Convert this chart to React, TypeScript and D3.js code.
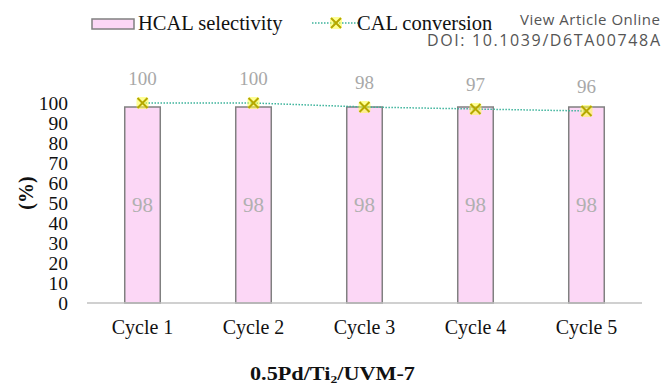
import React from "react";
import * as d3 from "d3";

const categories = ["Cycle 1", "Cycle 2", "Cycle 3", "Cycle 4", "Cycle 5"];
const selectivity = [98, 98, 98, 98, 98];
const conversion = [100, 100, 98, 97, 96];
const yTicks = [0, 10, 20, 30, 40, 50, 60, 70, 80, 90, 100];

const W = 662;
const H = 385;
const serif = "'Liberation Serif', 'Times New Roman', Times, serif";
const sans = "'Open Sans', 'Noto Sans', sans-serif";

export default function App() {
  const x = d3.scaleBand<string>().domain(categories).range([87, 642]).paddingInner(0.68).paddingOuter(0.34);
  const xc = (c: string) => (x(c) as number) + x.bandwidth() / 2;
  const y = d3.scaleLinear().domain([0, 100]).range([303, 103]);
  const line = d3
    .line<number>()
    .x((_, i) => xc(categories[i]))
    .y((d) => y(d));

  const marker = (cx: number, cy: number, k: string) => (
    <g key={k}>
      <rect x={cx - 6} y={cy - 6} width={12} height={12} fill="#ffff40" opacity={0.55} rx={3} />
      <path
        d={`M${cx - 5},${cy - 5}L${cx + 5},${cy + 5}M${cx - 5},${cy + 5}L${cx + 5},${cy - 5}`}
        stroke="#b5a800"
        strokeWidth={2}
      />
    </g>
  );

  return (
    <svg width={W} height={H} style={{ position: "absolute", left: 0, top: 0, background: "#fff" }}>
      {/* legend */}
      <rect x={92} y={19} width={42} height={10} fill="#fcd7f6" stroke="#808080" strokeWidth={1.5} />
      <text x={138} y={30} fontFamily={serif} fontSize={20.5} fill="#111">HCAL selectivity</text>
      <line x1={312} y1={23} x2={358} y2={23} stroke="#3cb39b" strokeWidth={1.5} strokeDasharray="1.5 1.5" />
      {marker(336, 23, "leg")}
      <text x={357} y={30} fontFamily={serif} fontSize={20.5} fill="#111">CAL conversion</text>

      {/* watermark */}
      <text x={660} y={25} textAnchor="end" fontFamily={sans} fontSize={15} fill="#555" textLength={140}>View Article Online</text>
      <text x={660} y={46} textAnchor="end" fontFamily={sans} fontSize={16} fill="#555" textLength={233}>DOI: 10.1039/D6TA00748A</text>

      {/* y ticks */}
      {yTicks.map((t) => (
        <text key={t} x={68} y={y(t)} dy="0.35em" textAnchor="end" fontFamily={serif} fontSize={19.5} fill="#111">
          {t}
        </text>
      ))}
      <text
        transform={`translate(26,${y(55)}) rotate(-90)`}
        textAnchor="middle"
        dy="0.35em"
        fontFamily={serif}
        fontSize={20}
        fontWeight="bold"
        fill="#111"
      >
        (%)
      </text>

      {/* bars */}
      {categories.map((c, i) => (
        <g key={c}>
          <rect
            x={x(c)}
            y={y(selectivity[i])}
            width={x.bandwidth()}
            height={y(0) - y(selectivity[i])}
            fill="#fcd7f6"
            stroke="#808080"
            strokeWidth={1.5}
          />
          <text
            x={xc(c)}
            y={(y(selectivity[i]) + y(0)) / 2}
            dy="0.35em"
            textAnchor="middle"
            fontFamily={serif}
            fontSize={21}
            fill="#b0b0b0"
          >
            {selectivity[i]}
          </text>
        </g>
      ))}

      {/* axis line */}
      <line x1={87} x2={642} y1={y(0)} y2={y(0)} stroke="#c0c0c0" strokeWidth={1.5} />

      {/* line */}
      <path d={line(conversion) as string} fill="none" stroke="#3cb39b" strokeWidth={1.5} strokeDasharray="1.5 1.5" />
      {conversion.map((v, i) => marker(xc(categories[i]), y(v), "m" + i))}
      {conversion.map((v, i) => (
        <text
          key={"l" + i}
          x={xc(categories[i])}
          y={y(v) - 25}
          dy="0.35em"
          textAnchor="middle"
          fontFamily={serif}
          fontSize={19}
          fill="#a8a8a8"
        >
          {v}
        </text>
      ))}

      {/* x labels */}
      {categories.map((c) => (
        <text key={"x" + c} x={xc(c)} y={334} textAnchor="middle" fontFamily={serif} fontSize={20} fill="#111">
          {c}
        </text>
      ))}

      {/* title */}
      <text
        x={250}
        y={380}
        fontFamily={serif}
        fontSize={18}
        fontWeight="bold"
        fill="#111"
        textLength={165}
        lengthAdjust="spacingAndGlyphs"
      >
        0.5Pd/Ti
        <tspan fontSize={11} dy={3}>2</tspan>
        <tspan dy={-3}>/UVM-7</tspan>
      </text>
    </svg>
  );
}
